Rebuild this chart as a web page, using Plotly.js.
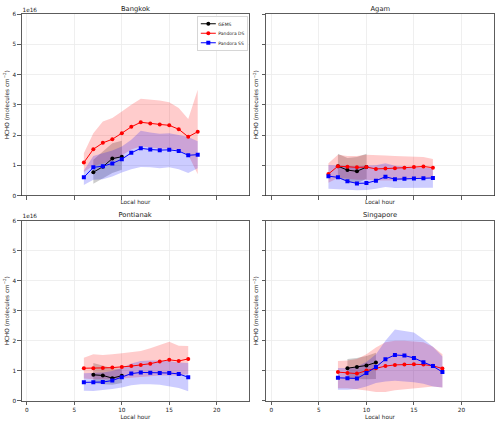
<!DOCTYPE html>
<html><head><meta charset="utf-8">
<script src="https://cdn.plot.ly/plotly-3.0.1.min.js"></script>
<style>
html,body{margin:0;padding:0;background:#fff;overflow:hidden}
#wrap{width:500px;height:424px;overflow:hidden}
#chart{width:1000px;height:848px;transform:scale(0.5);transform-origin:0 0}
</style>
</head><body><div id="wrap"><div id="chart"></div></div>
<script>
// HCHO column values in units of 1e16 molecules cm^-2
const siteNames = ["Bangkok", "Agam", "Pontianak", "Singapore"];
const seriesNames = ["GEMS", "Pandora DS", "Pandora SS"];
const xTickVals = [0, 5, 10, 15, 20];
const yTickVals = [0, 1, 2, 3, 4, 5, 6];

// Bangkok
const bkkHoursGEMS = [7, 8, 9, 10];
const bkkGEMS   = [0.77, 0.95, 1.22, 1.28];
const bkkGEMSlo = [0.39, 0.57, 0.74, 0.85];
const bkkGEMShi = [1.18, 1.46, 1.73, 1.81];
const bkkHours  = [6, 7, 8, 9, 10, 11, 12, 13, 14, 15, 16, 17, 18];
const bkkDS     = [1.09, 1.53, 1.74, 1.86, 2.06, 2.27, 2.42, 2.38, 2.35, 2.32, 2.19, 1.94, 2.11];
const bkkDSlo   = [0.78, 0.98, 1.05, 1.15, 1.32, 1.52, 1.62, 1.58, 1.55, 1.55, 1.50, 1.35, 0.70];
const bkkDShi   = [1.40, 2.06, 2.45, 2.56, 2.78, 3.00, 3.20, 3.17, 3.14, 3.08, 2.89, 2.53, 3.50];
const bkkSS     = [0.60, 0.93, 0.97, 1.06, 1.20, 1.41, 1.56, 1.52, 1.50, 1.51, 1.47, 1.33, 1.35];
const bkkSSlo   = [0.35, 0.52, 0.54, 0.63, 0.76, 0.87, 0.94, 0.93, 0.90, 0.93, 0.87, 0.74, 0.90];
const bkkSShi   = [0.83, 1.31, 1.40, 1.49, 1.62, 1.84, 2.14, 2.08, 2.04, 2.06, 2.00, 1.93, 1.79];

// Agam
const agmHoursGEMS = [7, 8, 9, 10];
const agmGEMS   = [0.97, 0.84, 0.80, 0.94];
const agmGEMSlo = [0.58, 0.45, 0.40, 0.55];
const agmGEMShi = [1.38, 1.24, 1.27, 1.38];
const agmHours  = [6, 7, 8, 9, 10, 11, 12, 13, 14, 15, 16, 17];
const agmDS     = [0.71, 0.97, 0.95, 0.93, 0.94, 0.88, 0.89, 0.90, 0.92, 0.94, 0.96, 0.92];
const agmDSlo   = [0.42, 0.58, 0.55, 0.52, 0.52, 0.50, 0.50, 0.50, 0.52, 0.55, 0.56, 0.58];
const agmDShi   = [1.07, 1.35, 1.31, 1.31, 1.35, 1.33, 1.32, 1.31, 1.30, 1.29, 1.27, 1.21];
const agmSS     = [0.64, 0.60, 0.47, 0.40, 0.41, 0.49, 0.62, 0.54, 0.55, 0.56, 0.57, 0.58];
const agmSSlo   = [0.22, 0.21, 0.19, 0.17, 0.18, 0.22, 0.28, 0.25, 0.25, 0.26, 0.26, 0.26];
const agmSShi   = [1.01, 1.00, 0.98, 0.96, 0.99, 1.00, 1.07, 0.98, 0.95, 0.93, 0.92, 0.90];

// Pontianak
const ptkHoursGEMS = [7, 8, 9, 10];
const ptkGEMS   = [0.87, 0.85, 0.76, 0.84];
const ptkGEMSlo = [0.60, 0.56, 0.54, 0.60];
const ptkGEMShi = [1.26, 1.18, 1.09, 1.07];
const ptkHours  = [6, 7, 8, 9, 10, 11, 12, 13, 14, 15, 16, 17];
const ptkDS     = [1.09, 1.09, 1.10, 1.11, 1.13, 1.16, 1.20, 1.24, 1.31, 1.37, 1.33, 1.40];
const ptkDSlo   = [0.75, 0.72, 0.72, 0.72, 0.75, 0.78, 0.80, 0.82, 0.85, 0.85, 0.85, 0.90];
const ptkDShi   = [1.44, 1.55, 1.53, 1.55, 1.59, 1.62, 1.66, 1.75, 1.86, 1.97, 1.84, 1.83];
const ptkSS     = [0.62, 0.62, 0.63, 0.68, 0.79, 0.91, 0.95, 0.94, 0.93, 0.93, 0.90, 0.79];
const ptkSSlo   = [0.34, 0.33, 0.37, 0.40, 0.45, 0.52, 0.56, 0.56, 0.54, 0.48, 0.43, 0.32];
const ptkSShi   = [0.92, 0.93, 0.95, 1.00, 1.10, 1.25, 1.33, 1.35, 1.35, 1.33, 1.28, 1.26];

// Singapore
const sgpHoursGEMS = [8, 9, 10, 11];
const sgpGEMS   = [1.09, 1.13, 1.18, 1.28];
const sgpGEMSlo = [0.74, 0.73, 0.72, 0.73];
const sgpGEMShi = [1.40, 1.43, 1.50, 1.60];
const sgpHours  = [7, 8, 9, 10, 11, 12, 13, 14, 15, 16, 17, 18];
const sgpDS     = [0.96, 0.93, 0.91, 1.01, 1.09, 1.16, 1.20, 1.21, 1.22, 1.21, 1.17, 1.08];
const sgpDSlo   = [0.42, 0.42, 0.38, 0.35, 0.30, 0.30, 0.36, 0.40, 0.42, 0.45, 0.48, 0.45];
const sgpDShi   = [1.33, 1.35, 1.40, 1.55, 1.78, 1.95, 2.00, 2.00, 1.98, 1.95, 1.80, 1.55];
const sgpSS     = [0.77, 0.76, 0.75, 0.93, 1.13, 1.39, 1.53, 1.51, 1.43, 1.29, 1.16, 0.96];
const sgpSSlo   = [0.37, 0.37, 0.40, 0.48, 0.60, 0.65, 0.67, 0.65, 0.62, 0.57, 0.48, 0.45];
const sgpSShi   = [1.10, 1.10, 1.15, 1.30, 1.55, 2.00, 2.38, 2.33, 2.28, 2.05, 1.80, 1.48];

const panels = [
  {name: siteNames[0], xa: "x",  ya: "y",  hg: bkkHoursGEMS, g: bkkGEMS, glo: bkkGEMSlo, ghi: bkkGEMShi, h: bkkHours, ds: bkkDS, dslo: bkkDSlo, dshi: bkkDShi, ss: bkkSS, sslo: bkkSSlo, sshi: bkkSShi},
  {name: siteNames[1], xa: "x2", ya: "y2", hg: agmHoursGEMS, g: agmGEMS, glo: agmGEMSlo, ghi: agmGEMShi, h: agmHours, ds: agmDS, dslo: agmDSlo, dshi: agmDShi, ss: agmSS, sslo: agmSSlo, sshi: agmSShi},
  {name: siteNames[2], xa: "x3", ya: "y3", hg: ptkHoursGEMS, g: ptkGEMS, glo: ptkGEMSlo, ghi: ptkGEMShi, h: ptkHours, ds: ptkDS, dslo: ptkDSlo, dshi: ptkDShi, ss: ptkSS, sslo: ptkSSlo, sshi: ptkSShi},
  {name: siteNames[3], xa: "x4", ya: "y4", hg: sgpHoursGEMS, g: sgpGEMS, glo: sgpGEMSlo, ghi: sgpGEMShi, h: sgpHours, ds: sgpDS, dslo: sgpDSlo, dshi: sgpDShi, ss: sgpSS, sslo: sgpSSlo, sshi: sgpSShi}
];

const colors = ["#000000", "#ff0000", "#0000ff"];
const fills = ["rgba(0,0,0,0.2)", "rgba(255,0,0,0.2)", "rgba(0,0,255,0.2)"];
const symbols = ["circle", "circle", "square"];

function band(x, lo, hi, fc, xa, ya) {
  return {x: x.concat(x.slice().reverse()), y: hi.concat(lo.slice().reverse()),
    type: "scatter", mode: "lines", fill: "toself", fillcolor: fc,
    line: {width: 0, color: fc}, hoverinfo: "skip", showlegend: false, xaxis: xa, yaxis: ya};
}
function line(x, y, i, xa, ya, showLeg) {
  return {x: x, y: y, type: "scatter", mode: "lines+markers", name: seriesNames[i],
    line: {color: colors[i], width: 2}, marker: {symbol: symbols[i], size: 8, color: colors[i]},
    showlegend: showLeg, xaxis: xa, yaxis: ya};
}

const traces = [];
panels.forEach((p) => {
  traces.push(band(p.hg, p.glo, p.ghi, fills[0], p.xa, p.ya));
  traces.push(band(p.h, p.dslo, p.dshi, fills[1], p.xa, p.ya));
  traces.push(band(p.h, p.sslo, p.sshi, fills[2], p.xa, p.ya));
});
panels.forEach((p, k) => {
  traces.push(line(p.hg, p.g, 0, p.xa, p.ya, k === 0));
  traces.push(line(p.h, p.ds, 1, p.xa, p.ya, k === 0));
  traces.push(line(p.h, p.ss, 2, p.xa, p.ya, k === 0));
});

const F = "DejaVu Sans, sans-serif";
const dark = "#333333";
const grid = "#ebebeb";
const xdomL = [0, 0.482], xdomR = [0.5175, 1];
const ydomT = [0.531, 1], ydomB = [0, 0.4664];

function xax(dom, anchor, labels) {
  return {domain: dom, anchor: anchor, range: [-0.57, 23.43], tickvals: xTickVals,
    showticklabels: labels, showgrid: true, gridcolor: grid, gridwidth: 1.6, zeroline: false,
    showline: true, mirror: true, linecolor: dark, linewidth: 1.6,
    ticks: "outside", ticklen: 7, tickwidth: 1.6, tickcolor: dark,
    tickfont: {family: F, size: 11.5, color: "#222"},
    title: {text: "Local hour", font: {family: F, size: 11.5, color: "#222"}, standoff: 2}};
}
function yax(dom, anchor, labels) {
  return {domain: dom, anchor: anchor, range: [0, 6], tickvals: yTickVals,
    showticklabels: labels, showgrid: true, gridcolor: grid, gridwidth: 1.6, zeroline: false,
    showline: true, mirror: true, linecolor: dark, linewidth: 1.6,
    ticks: "outside", ticklen: 7, tickwidth: 1.6, tickcolor: dark,
    tickfont: {family: F, size: 11.5, color: "#222"},
    title: {text: "HCHO (molecules cm<sup>−2</sup>)", font: {family: F, size: 11.5, color: "#222"}, standoff: 4}};
}

const doms = [[xdomL, ydomT], [xdomR, ydomT], [xdomL, ydomB], [xdomR, ydomB]];
const annotations = [];
panels.forEach((p, k) => {
  const d = doms[k];
  annotations.push({text: p.name, xref: "paper", yref: "paper", x: (d[0][0] + d[0][1]) / 2, y: d[1][1],
    xanchor: "center", yanchor: "bottom", yshift: 2, showarrow: false, font: {family: F, size: 13.5, color: "#222"}});
  if (k % 2 === 0) {
    annotations.push({text: "1e16", xref: "paper", yref: "paper", x: d[0][0], y: d[1][1],
      xanchor: "left", yanchor: "bottom", yshift: 0, showarrow: false, font: {family: F, size: 11.5, color: "#222"}});
  }
});

const layout = {
  width: 1000, height: 848,
  margin: {l: 43, r: 12, t: 28, b: 46},
  paper_bgcolor: "#fff", plot_bgcolor: "#fff",
  font: {family: F, color: "#222"},
  xaxis: xax(xdomL, "y", false),
  xaxis2: xax(xdomR, "y2", false),
  xaxis3: xax(xdomL, "y3", true),
  xaxis4: xax(xdomR, "y4", true),
  yaxis: yax(ydomT, "x", true),
  yaxis2: yax(ydomT, "x2", false),
  yaxis3: yax(ydomB, "x3", true),
  yaxis4: yax(ydomB, "x4", false),
  legend: {x: 0.4794, y: 0.9956, xanchor: "right", yanchor: "top", bgcolor: "rgba(255,255,255,0.85)",
    bordercolor: "#cccccc", borderwidth: 1.6, font: {family: F, size: 9, color: "#222"},
    tracegroupgap: 0, itemwidth: 30},
  annotations: annotations,
  showlegend: true
};

Plotly.newPlot("chart", traces, layout, {displayModeBar: false, staticPlot: true});
</script>
</body></html>
